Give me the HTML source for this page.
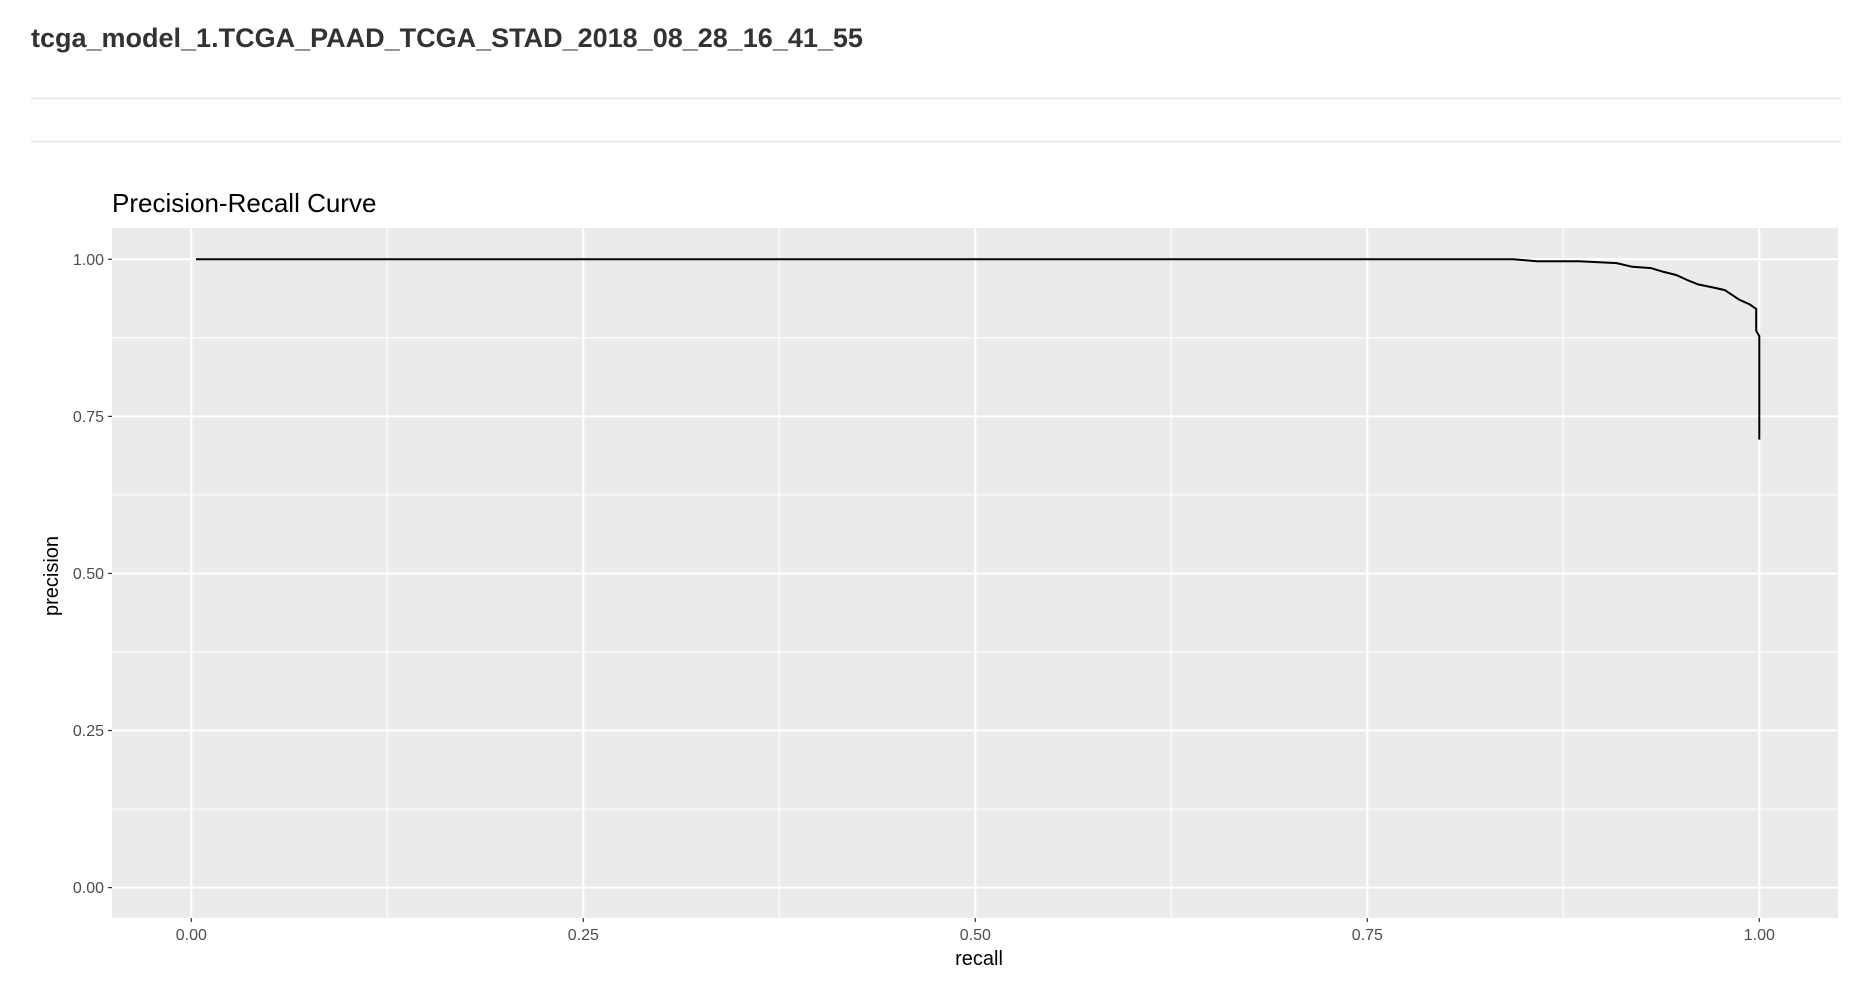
<!DOCTYPE html>
<html><head><meta charset="utf-8"><style>
body{margin:0;background:#fff;font-family:"Liberation Sans",sans-serif;}
</style></head><body>
<svg width="1872" height="1000" xmlns="http://www.w3.org/2000/svg">
<text x="31" y="47" font-size="27" font-weight="bold" fill="#333">tcga_model_1.TCGA_PAAD_TCGA_STAD_2018_08_28_16_41_55</text>
<line x1="31" x2="1841" y1="98.5" y2="98.5" stroke="#e5e5e5" stroke-width="1.5"/>
<line x1="31" x2="1841" y1="141.5" y2="141.5" stroke="#e5e5e5" stroke-width="1.5"/>
<text x="112" y="212" font-size="26" fill="#000">Precision-Recall Curve</text>
<rect x="112" y="228" width="1726" height="690" fill="#ebebeb"/>
<g id="grid"></g><g id="axes"></g>
<path id="curve" fill="none" stroke="#000" stroke-width="2"/>
<text x="979" y="965" font-size="20" text-anchor="middle" fill="#000">recall</text>
<text transform="translate(58,576) rotate(-90)" font-size="20" text-anchor="middle" fill="#000">precision</text>
</svg>
<script>
const recall=[0.003,0.834,0.843,0.858,0.885,0.909,0.919,0.931,0.939,0.947,0.954,0.961,0.971,0.978,0.987,0.994,0.998,0.998,1.0,1.0];
const precision=[1.0,1.0,1.0,0.997,0.997,0.994,0.988,0.986,0.980,0.975,0.967,0.960,0.955,0.951,0.936,0.928,0.921,0.886,0.878,0.713];
const xTicks=[0,0.25,0.5,0.75,1];
const yTicks=[0,0.25,0.5,0.75,1];
const xTickLabels=["0.00","0.25","0.50","0.75","1.00"];
const yTickLabels=["0.00","0.25","0.50","0.75","1.00"];
const X=v=>191.3+v*1568, Y=v=>887.6-v*628.3;
const ns="http://www.w3.org/2000/svg";
const grid=document.getElementById('grid'), axes=document.getElementById('axes');
function ln(p,x1,y1,x2,y2,c,w){const l=document.createElementNS(ns,'line');l.setAttribute('x1',x1);l.setAttribute('y1',y1);l.setAttribute('x2',x2);l.setAttribute('y2',y2);l.setAttribute('stroke',c);l.setAttribute('stroke-width',w);p.appendChild(l);return l;}
function tx(p,x,y,s,a){const t=document.createElementNS(ns,'text');t.setAttribute('x',x);t.setAttribute('y',y);t.setAttribute('font-size','16');t.setAttribute('fill','#4d4d4d');t.setAttribute('text-anchor',a);t.textContent=s;p.appendChild(t);return t;}
for(let i=0;i<xTicks.length-1;i++){
 const m=(xTicks[i]+xTicks[i+1])/2;
 let g=ln(grid,X(m),228,X(m),918,'#fff',1);
 
 
 const my=(yTicks[i]+yTicks[i+1])/2;
 g=ln(grid,112,Y(my),1838,Y(my),'#fff',1);
 
 
}
xTicks.forEach((v,i)=>{
 let g=ln(grid,X(v),228,X(v),918,'#fff',2);
 
 
 let t=ln(axes,X(v),918,X(v),922,'#333',1.2);
 
 
 let l=tx(axes,X(v),940,xTickLabels[i],'middle');
 
 
});
yTicks.forEach((v,i)=>{
 let g=ln(grid,112,Y(v),1838,Y(v),'#fff',2);
 
 
 let t=ln(axes,108,Y(v),112,Y(v),'#333',1.2);
 
 
 let l=tx(axes,104,Y(v)+5.5,yTickLabels[i],'end');
 
 
});
document.getElementById('curve').setAttribute('d',recall.map((r,i)=>(i?'L':'M')+X(r).toFixed(1)+' '+Y(precision[i]).toFixed(1)).join(' '));
</script>
</body></html>
